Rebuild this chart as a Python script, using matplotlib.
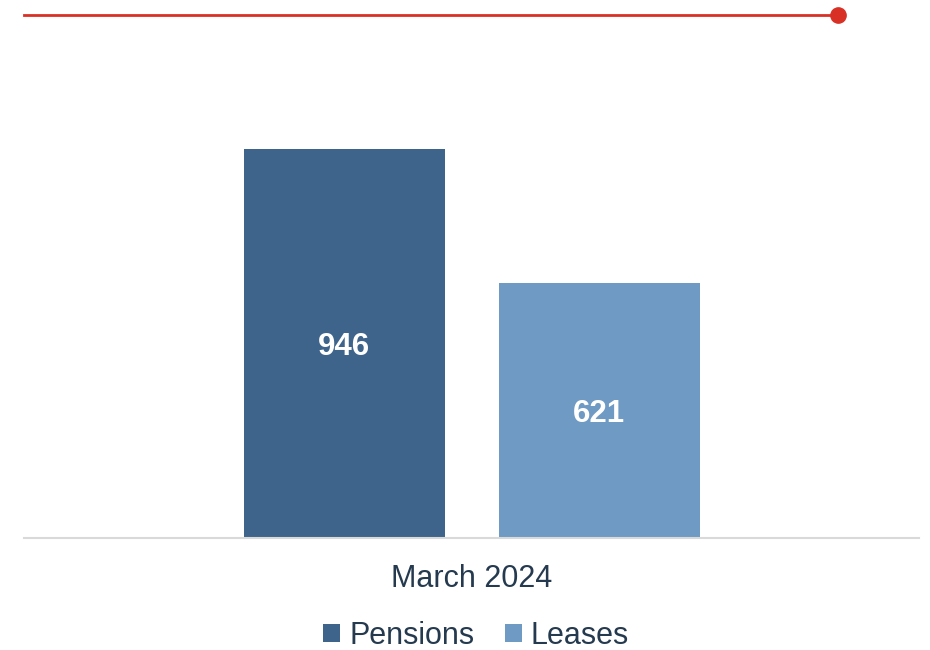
import matplotlib
matplotlib.use("Agg")
import matplotlib.pyplot as plt
from matplotlib.patches import Patch
from matplotlib.lines import Line2D

plt.rcParams['font.family'] = ['Liberation Sans', 'DejaVu Sans']

category = "March 2024"
series = ["Pensions", "Leases"]
values = [946, 621]
colors = ["#3e648c", "#6f9ac4"]
text_color = "#253a4f"

W, H = 930, 650
fig = plt.figure(figsize=(W / 100, H / 100), dpi=100)

# axes spans the baseline; zero sits at y=538 px
ax_left, ax_right, ax_bottom, ax_top = 24, 919, 538, 40
ax = fig.add_axes([ax_left / W, (H - ax_bottom) / H,
                   (ax_right - ax_left) / W, (ax_bottom - ax_top) / H])

px_per_unit = 389 / 946
ax.set_ylim(0, (ax_bottom - ax_top) / px_per_unit)
ax.set_xlim(0, 1)

bar_w = 201 / (ax_right - ax_left)
offset = 127.5 / (ax_right - ax_left)
positions = [0.5 - offset, 0.5 + offset]

for x, v, c in zip(positions, values, colors):
    ax.bar(x, v, width=bar_w, color=c, zorder=2)
    ax.text(x, v / 2, f"{v}", ha="center", va="center_baseline", color="white",
            fontsize=22.5, fontweight="bold", zorder=3)

for s in ["top", "right", "left"]:
    ax.spines[s].set_visible(False)
ax.spines["bottom"].set_color("#d9d9d9")
ax.spines["bottom"].set_linewidth(1.5)
ax.set_yticks([])
ax.set_xticks([0.5])
ax.set_xticklabels([category], fontsize=22, color=text_color)
ax.tick_params(axis="x", length=0, pad=19)

# red accent line with dot at the top
fig.add_artist(Line2D([24 / W, 838 / W], [(H - 15) / H] * 2,
                      color="#d93025", linewidth=2, transform=fig.transFigure))
fig.add_artist(Line2D([838 / W], [(H - 15) / H], marker="o", markersize=11,
                      color="#d93025", transform=fig.transFigure))

handles = [Patch(facecolor=c, edgecolor="none", label=s) for s, c in zip(series, colors)]
leg = fig.legend(handles=handles, loc="center", bbox_to_anchor=(476 / W, (H - 636) / H),
                 ncol=2, frameon=False, fontsize=22, handlelength=0.55, handleheight=0.55,
                 handletextpad=0.3, columnspacing=1.0, borderpad=0, borderaxespad=0)
for t in leg.get_texts():
    t.set_color(text_color)

fig.savefig("out.png", dpi=100)
